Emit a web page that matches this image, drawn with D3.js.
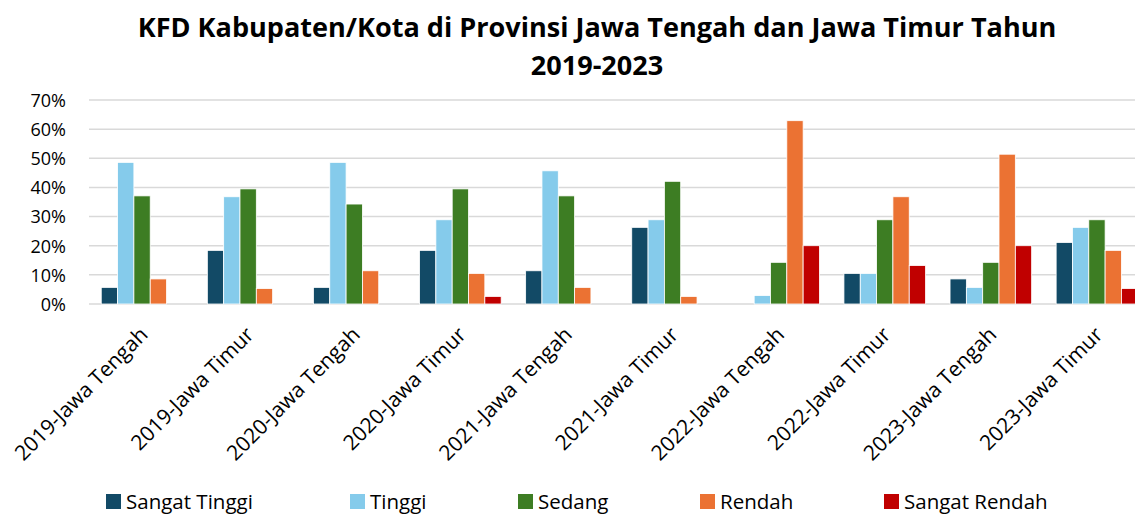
<!DOCTYPE html>
<html>
<head>
<meta charset="utf-8">
<script src="https://cdn.jsdelivr.net/npm/d3@7"></script>
<style>
  html, body { margin: 0; padding: 0; background: #ffffff; }
  svg { display: block; }
  text { font-family: "Open Sans", "DejaVu Sans", sans-serif; fill: #000; }
</style>
</head>
<body>
<svg id="chart" width="1135" height="515"></svg>
<script>
const categories = [
  "2019-Jawa Tengah", "2019-Jawa Timur", "2020-Jawa Tengah", "2020-Jawa Timur",
  "2021-Jawa Tengah", "2021-Jawa Timur", "2022-Jawa Tengah", "2022-Jawa Timur",
  "2023-Jawa Tengah", "2023-Jawa Timur"
];
const seriesNames = ["Sangat Tinggi", "Tinggi", "Sedang", "Rendah", "Sangat Rendah"];
const sangatTinggi = [5.7, 18.4, 5.7, 18.4, 11.4, 26.3, 0, 10.5, 8.6, 21.1];
const tinggi       = [48.6, 36.8, 48.6, 28.9, 45.7, 28.9, 2.9, 10.5, 5.7, 26.3];
const sedang       = [37.1, 39.5, 34.3, 39.5, 37.1, 42.1, 14.3, 28.9, 14.3, 28.9];
const rendah       = [8.6, 5.3, 11.4, 10.5, 5.7, 2.6, 62.9, 36.8, 51.4, 18.4];
const sangatRendah = [0, 0, 0, 2.6, 0, 0, 20.0, 13.2, 20.0, 5.3];
const yTicks = [0, 10, 20, 30, 40, 50, 60, 70];
const colors = ["#124A66", "#85CBEB", "#3D7D23", "#EB7233", "#C00000"];
const titleLines = ["KFD Kabupaten/Kota di Provinsi Jawa Tengah dan Jawa Timur Tahun", "2019-2023"];

const seriesValues = [sangatTinggi, tinggi, sedang, rendah, sangatRendah];

const svg = d3.select("#chart");

const plotLeft = 89, plotRight = 1150, plotTop = 100, plotBottom = 304;

const x0 = d3.scaleBand().domain(categories).range([plotLeft, plotRight]).paddingInner(0).paddingOuter(0);
const bw = x0.bandwidth();
const gap = bw * 1.5 / 6.5;
const x1 = d3.scaleBand().domain(seriesNames).range([gap / 2, bw - gap / 2]).padding(0);
const y = d3.scaleLinear().domain([0, 70]).range([plotBottom, plotTop]);

// gridlines
svg.append("g")
  .selectAll("line")
  .data(yTicks)
  .join("line")
  .attr("x1", plotLeft)
  .attr("x2", 1135)
  .attr("y1", d => y(d))
  .attr("y2", d => y(d))
  .attr("stroke", "#d9d9d9")
  .attr("stroke-width", 1.5);

// y axis labels
const yAxis = d3.axisLeft(y).tickValues(yTicks).tickFormat(d => d + "%").tickSize(0).tickPadding(0);
const yg = svg.append("g").attr("transform", `translate(66,0)`).call(yAxis);
yg.select(".domain").remove();
yg.selectAll("text").attr("font-size", 18).attr("fill", "#000").attr("dy", "0.35em")
  .style("font-family", '"Open Sans", sans-serif');

// bars
const groups = svg.append("g")
  .selectAll("g")
  .data(categories)
  .join("g")
  .attr("transform", d => `translate(${x0(d)},0)`);

groups.selectAll("rect")
  .data((c, i) => seriesNames.map((s, j) => ({ s, j, v: seriesValues[j][i] })))
  .join("rect")
  .filter(d => d.v > 0)
  .attr("x", d => x1(d.s))
  .attr("width", x1.bandwidth())
  .attr("y", d => y(d.v))
  .attr("height", d => y(0) - y(d.v))
  .attr("fill", d => colors[d.j])
  .attr("stroke", "#ffffff")
  .attr("stroke-width", 0.8);

// x labels
svg.append("g")
  .selectAll("text")
  .data(categories)
  .join("text")
  .attr("transform", d => `translate(${x0(d) + bw / 2 + 7},336) rotate(-45)`)
  .attr("text-anchor", "end")
  .attr("font-size", 21)
  .text(d => d);

// title
const title = svg.append("g");
title.selectAll("text")
  .data(titleLines)
  .join("text")
  .attr("x", 597)
  .attr("y", (d, i) => 37 + i * 38)
  .attr("text-anchor", "middle")
  .attr("font-weight", "bold")
  .attr("font-size", 25)
  .text(d => d);
const tNode = title.select("text").node();
const tw = tNode.getComputedTextLength();
const fs = 25 * 919 / tw;
title.selectAll("text").attr("font-size", fs);

// legend
const legendX = [106, 350, 518, 700, 884];
const legend = svg.append("g")
  .selectAll("g")
  .data(seriesNames)
  .join("g")
  .attr("transform", (d, i) => `translate(${legendX[i]},494)`);
legend.append("rect")
  .attr("width", 15).attr("height", 15)
  .attr("fill", (d, i) => colors[i]);
legend.append("text")
  .attr("x", 20).attr("y", 15)
  .attr("font-size", 20.5)
  .text(d => d);
</script>
</body>
</html>
